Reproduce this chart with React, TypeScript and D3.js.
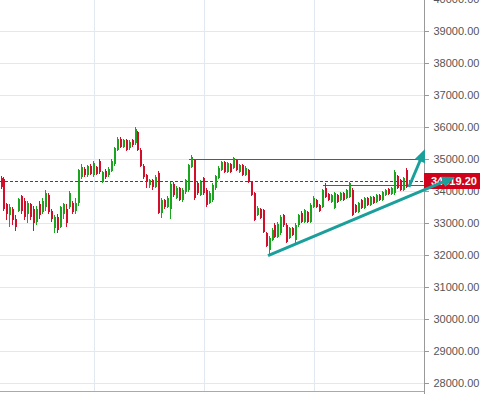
import { useEffect, useRef } from 'react';
import * as d3 from 'd3';

// Price axis ticks
const yTicks = [28000, 29000, 30000, 31000, 32000, 33000, 34000, 35000, 36000, 37000, 38000, 39000, 40000];

// Candles: [open, high, low, close]
const candles: [number, number, number, number][] = [
  [34420, 34480, 34080, 34130], [34400, 34450, 33400, 33450], [33600, 33650, 33100, 33300], [33250, 33600, 32900, 33500],
  [33450, 33500, 32950, 33100], [33150, 33250, 32750, 32900], [33400, 33800, 33350, 33750], [33850, 33900, 33300, 33400],
  [33700, 33800, 33100, 33200], [33300, 33700, 33000, 33650], [33600, 33650, 33100, 33200], [33450, 33550, 32750, 33000],
  [33050, 33550, 32950, 33450], [33600, 33700, 33150, 33250], [33350, 33800, 33300, 33700], [33500, 34050, 33400, 33950],
  [33900, 33950, 33300, 33350], [33400, 33450, 33050, 33150], [32850, 33250, 32700, 33200], [33200, 33300, 32700, 32800],
  [32900, 33550, 32850, 33500], [33300, 33650, 33150, 33600], [33450, 33600, 32900, 33000], [33500, 34000, 33450, 33950],
  [33650, 33700, 33300, 33350], [33400, 33800, 33300, 33650],
  [33640, 34700, 33550, 34660], [34450, 34850, 34400, 34760], [34700, 34750, 34450, 34500], [34500, 34820, 34450, 34780],
  [34800, 34850, 34500, 34550], [34500, 34950, 34450, 34900], [34750, 34800, 34500, 34550], [34950, 35000, 34550, 34600],
  [34300, 34650, 34250, 34600], [34650, 34700, 34400, 34450], [34500, 34750, 34450, 34700], [34650, 35000, 34600, 34950],
  [34850, 35400, 34800, 35350], [35300, 35700, 35250, 35650], [35650, 35700, 35350, 35400], [35400, 35650, 35350, 35600],
  [35600, 35650, 35250, 35300], [35350, 35600, 35300, 35550], [35600, 35650, 35400, 35450], [35500, 36000, 35450, 35950],
  [35850, 35900, 35250, 35300], [35300, 35350, 34750, 34800], [34800, 34850, 34400, 34450], [34500, 34550, 34100, 34300],
  [34200, 34400, 34100, 34350], [34350, 34400, 34050, 34150], [34150, 34500, 34100, 34450],
  [34560, 34650, 33290, 33320], [33320, 33800, 33170, 33730], [33730, 33760, 33450, 33510], [33510, 33850, 33480, 33790],
  [33450, 34300, 33140, 34230], [34230, 34290, 33820, 33885], [33790, 34160, 33750, 34100], [34100, 34150, 33700, 33730],
  [33730, 34100, 33680, 34040], [33980, 34400, 33920, 34350], [34040, 34860, 33990, 34820], [34760, 35130, 34720, 35070],
  [34980, 35020, 33730, 33790], [34260, 34320, 33900, 33950], [33880, 34350, 33850, 34290], [34410, 34450, 33900, 33950],
  [34040, 34100, 33500, 33570], [33640, 34000, 33600, 33950],
  [33730, 34250, 33680, 34200], [34100, 34520, 34050, 34480], [34410, 34780, 34380, 34730], [34660, 34960, 34620, 34910],
  [34910, 34950, 34560, 34600], [34600, 34920, 34560, 34880], [34850, 34890, 34560, 34600], [34730, 35070, 34700, 35040],
  [34980, 35010, 34620, 34660], [34600, 34860, 34560, 34820], [34820, 34860, 34470, 34510], [34510, 34780, 34480, 34730],
  [34660, 34700, 34250, 34290], [34290, 34330, 33850, 33890], [33950, 33980, 33080, 33110], [33260, 33530, 33220, 33480],
  [33450, 33490, 33130, 33170], [33420, 33460, 32700, 32730], [32700, 32740, 32260, 32300], [32170, 32600, 32010, 32550],
  [32480, 32840, 32440, 32800], [32950, 33000, 32540, 32580], [32580, 33040, 32540, 32980],
  [32700, 33260, 32650, 33200], [33260, 33300, 32900, 32950], [32950, 33000, 32380, 32420], [32550, 32900, 32500, 32860],
  [32860, 32900, 32600, 32640], [32480, 33000, 32330, 32950], [32950, 33300, 32900, 33260], [33330, 33370, 33000, 33040],
  [33040, 33460, 33000, 33420], [33360, 33400, 33000, 33040], [33040, 33620, 33000, 33570], [33510, 33840, 33470, 33790],
  [33730, 33770, 33470, 33510], [33570, 33610, 33350, 33390], [33510, 34080, 33470, 34040], [34100, 34260, 33780, 33820],
  [33920, 33960, 33690, 33730], [33670, 33930, 33630, 33890], [33480, 33990, 33440, 33950], [33890, 33930, 33630, 33670],
  [33730, 33990, 33690, 33950], [33950, 33990, 33690, 33730], [33790, 34080, 33750, 34040], [33820, 34300, 33780, 34260],
  [34040, 34100, 33230, 33270], [33570, 33610, 33320, 33360], [33360, 33680, 33320, 33640], [33730, 33770, 33440, 33480],
  [33480, 33830, 33440, 33790], [33790, 33830, 33530, 33570], [33570, 33860, 33530, 33820], [33820, 33860, 33600, 33640],
  [33670, 33920, 33630, 33880], [33880, 33920, 33690, 33730], [33730, 34020, 33690, 33980], [33880, 34080, 33840, 34040],
  [34070, 34110, 33880, 33920], [33920, 34140, 33880, 34100], [33950, 34660, 33900, 34600], [34480, 34520, 34060, 34100],
  [34350, 34390, 34000, 34040], [34040, 34450, 34000, 34410], [34660, 34730, 34090, 34130], [34230, 34360, 34190, 34319.2],
];

const lastPrice = 34319.2;

// horizontal levels drawn by hand (start candle index, price)
const levels = [
  { from: 63, price: 35000 },
  { from: 108, price: 34200 },
];

// teal arrows: [candle index, price] -> [candle index, price]
const arrows = [
  { from: [89.5, 31990], to: [152.3, 34450] },
  { from: [136.8, 34134], to: [142.2, 35318] },
];

// vertical grid lines (candle index of each date break)
const dateGrid = [31, 68, 105];

export default function App() {
  const svgRef = useRef<SVGSVGElement>(null);

  useEffect(() => {
    if (!svgRef.current) return;
    const svg = d3.select(svgRef.current);
    svg.selectAll('*').remove();

    const axisX = 424;
    const bottomY = 391;
    const green = '#1aa51f';
    const red = '#d20f2a';
    const teal = '#1b9f9b';

    const x = d3.scaleLinear().domain([0, candles.length - 1]).range([1.5, 409.5]);
    const y = d3.scaleLinear().domain([28000, 40000]).range([383.3, -0.7]);

    // grid
    const grid = svg.append('g').attr('stroke', '#e1e8ef').attr('shape-rendering', 'crispEdges');
    grid.selectAll('line.h')
      .data(yTicks)
      .join('line')
      .attr('class', 'h')
      .attr('x1', 0)
      .attr('x2', axisX)
      .attr('y1', d => Math.round(y(d)) + 0.5)
      .attr('y2', d => Math.round(y(d)) + 0.5);
    grid.selectAll('line.v')
      .data(dateGrid)
      .join('line')
      .attr('class', 'v')
      .attr('x1', d => Math.round(x(d)) + 0.5)
      .attr('x2', d => Math.round(x(d)) + 0.5)
      .attr('y1', 0)
      .attr('y2', bottomY);

    // hand-drawn levels
    svg.append('g')
      .attr('stroke', '#3558c8')
      .attr('shape-rendering', 'crispEdges')
      .selectAll('line')
      .data(levels)
      .join('line')
      .attr('x1', d => x(d.from))
      .attr('x2', axisX)
      .attr('y1', d => Math.round(y(d.price)) + 0.5)
      .attr('y2', d => Math.round(y(d.price)) + 0.5);

    // last price line
    svg.append('line')
      .attr('x1', 0)
      .attr('x2', axisX)
      .attr('y1', Math.round(y(lastPrice)) + 0.5)
      .attr('y2', Math.round(y(lastPrice)) + 0.5)
      .attr('stroke', '#c0102a')
      .attr('stroke-dasharray', '3,2')
      .attr('shape-rendering', 'crispEdges');

    // candles
    const c = svg.append('g').attr('shape-rendering', 'crispEdges')
      .selectAll('g')
      .data(candles)
      .join('g')
      .attr('fill', d => (d[3] >= d[0] ? green : red));
    c.append('rect')
      .attr('x', (d, i) => Math.round(x(i)) - 1)
      .attr('width', 1)
      .attr('y', d => y(d[1]))
      .attr('height', d => Math.max(1, y(d[2]) - y(d[1])));
    c.append('rect')
      .attr('x', (d, i) => Math.round(x(i)) - 1)
      .attr('width', 2)
      .attr('y', d => y(Math.max(d[0], d[3])))
      .attr('height', d => Math.max(1, Math.abs(y(d[0]) - y(d[3]))));

    // right price axis
    const axis = d3.axisRight(y)
      .tickValues(yTicks)
      .tickSize(4)
      .tickSizeOuter(0)
      .tickPadding(5)
      .tickFormat(d => d3.format('.2f')(d as number));
    const ag = svg.append('g').attr('transform', `translate(${axisX + 0.5},0)`).call(axis);
    ag.select('.domain').remove();
    ag.selectAll('line').attr('stroke', '#999').attr('shape-rendering', 'crispEdges');
    ag.selectAll('text')
      .attr('fill', '#555')
      .style('font-family', '"Liberation Sans", Arial, sans-serif')
      .style('font-size', '11px');

    svg.append('line')
      .attr('x1', axisX + 0.5).attr('x2', axisX + 0.5)
      .attr('y1', 0).attr('y2', 394)
      .attr('stroke', '#999').attr('shape-rendering', 'crispEdges');
    svg.append('line')
      .attr('x1', 0).attr('x2', axisX)
      .attr('y1', bottomY + 0.5).attr('y2', bottomY + 0.5)
      .attr('stroke', '#aaa').attr('shape-rendering', 'crispEdges');

    // last price tag
    const ly = y(lastPrice);
    svg.append('rect')
      .attr('x', axisX)
      .attr('y', Math.round(ly) - 8)
      .attr('width', 480 - axisX)
      .attr('height', 16)
      .attr('fill', '#d0021b');
    svg.append('text')
      .attr('x', axisX + 7)
      .attr('y', ly)
      .attr('dy', '0.36em')
      .attr('fill', '#fff')
      .style('font-family', '"Liberation Sans", Arial, sans-serif')
      .style('font-size', '11px')
      .style('font-weight', 'bold')
      .text(d3.format('.2f')(lastPrice));

    // teal arrows
    const ar = svg.append('g');
    arrows.forEach(a => {
      const x1 = x(a.from[0]), y1 = y(a.from[1]);
      const x2 = x(a.to[0]), y2 = y(a.to[1]);
      const len = Math.hypot(x2 - x1, y2 - y1);
      const ux = (x2 - x1) / len, uy = (y2 - y1) / len;
      const hl = 13, hw = 5.5;
      const bx = x2 - ux * hl, by = y2 - uy * hl;
      ar.append('line')
        .attr('x1', x1).attr('y1', y1)
        .attr('x2', bx + ux * 2).attr('y2', by + uy * 2)
        .attr('stroke', teal)
        .attr('stroke-width', 3);
      ar.append('path')
        .attr('d', `M${x2},${y2}L${bx - uy * hw},${by + ux * hw}L${bx + uy * hw},${by - ux * hw}Z`)
        .attr('fill', teal);
    });
  }, []);

  return (
    <div style={{ position: 'absolute', left: 0, top: 0 }}>
      <svg ref={svgRef} width={480} height={394} style={{ display: 'block', background: '#fff' }} />
    </div>
  );
}
